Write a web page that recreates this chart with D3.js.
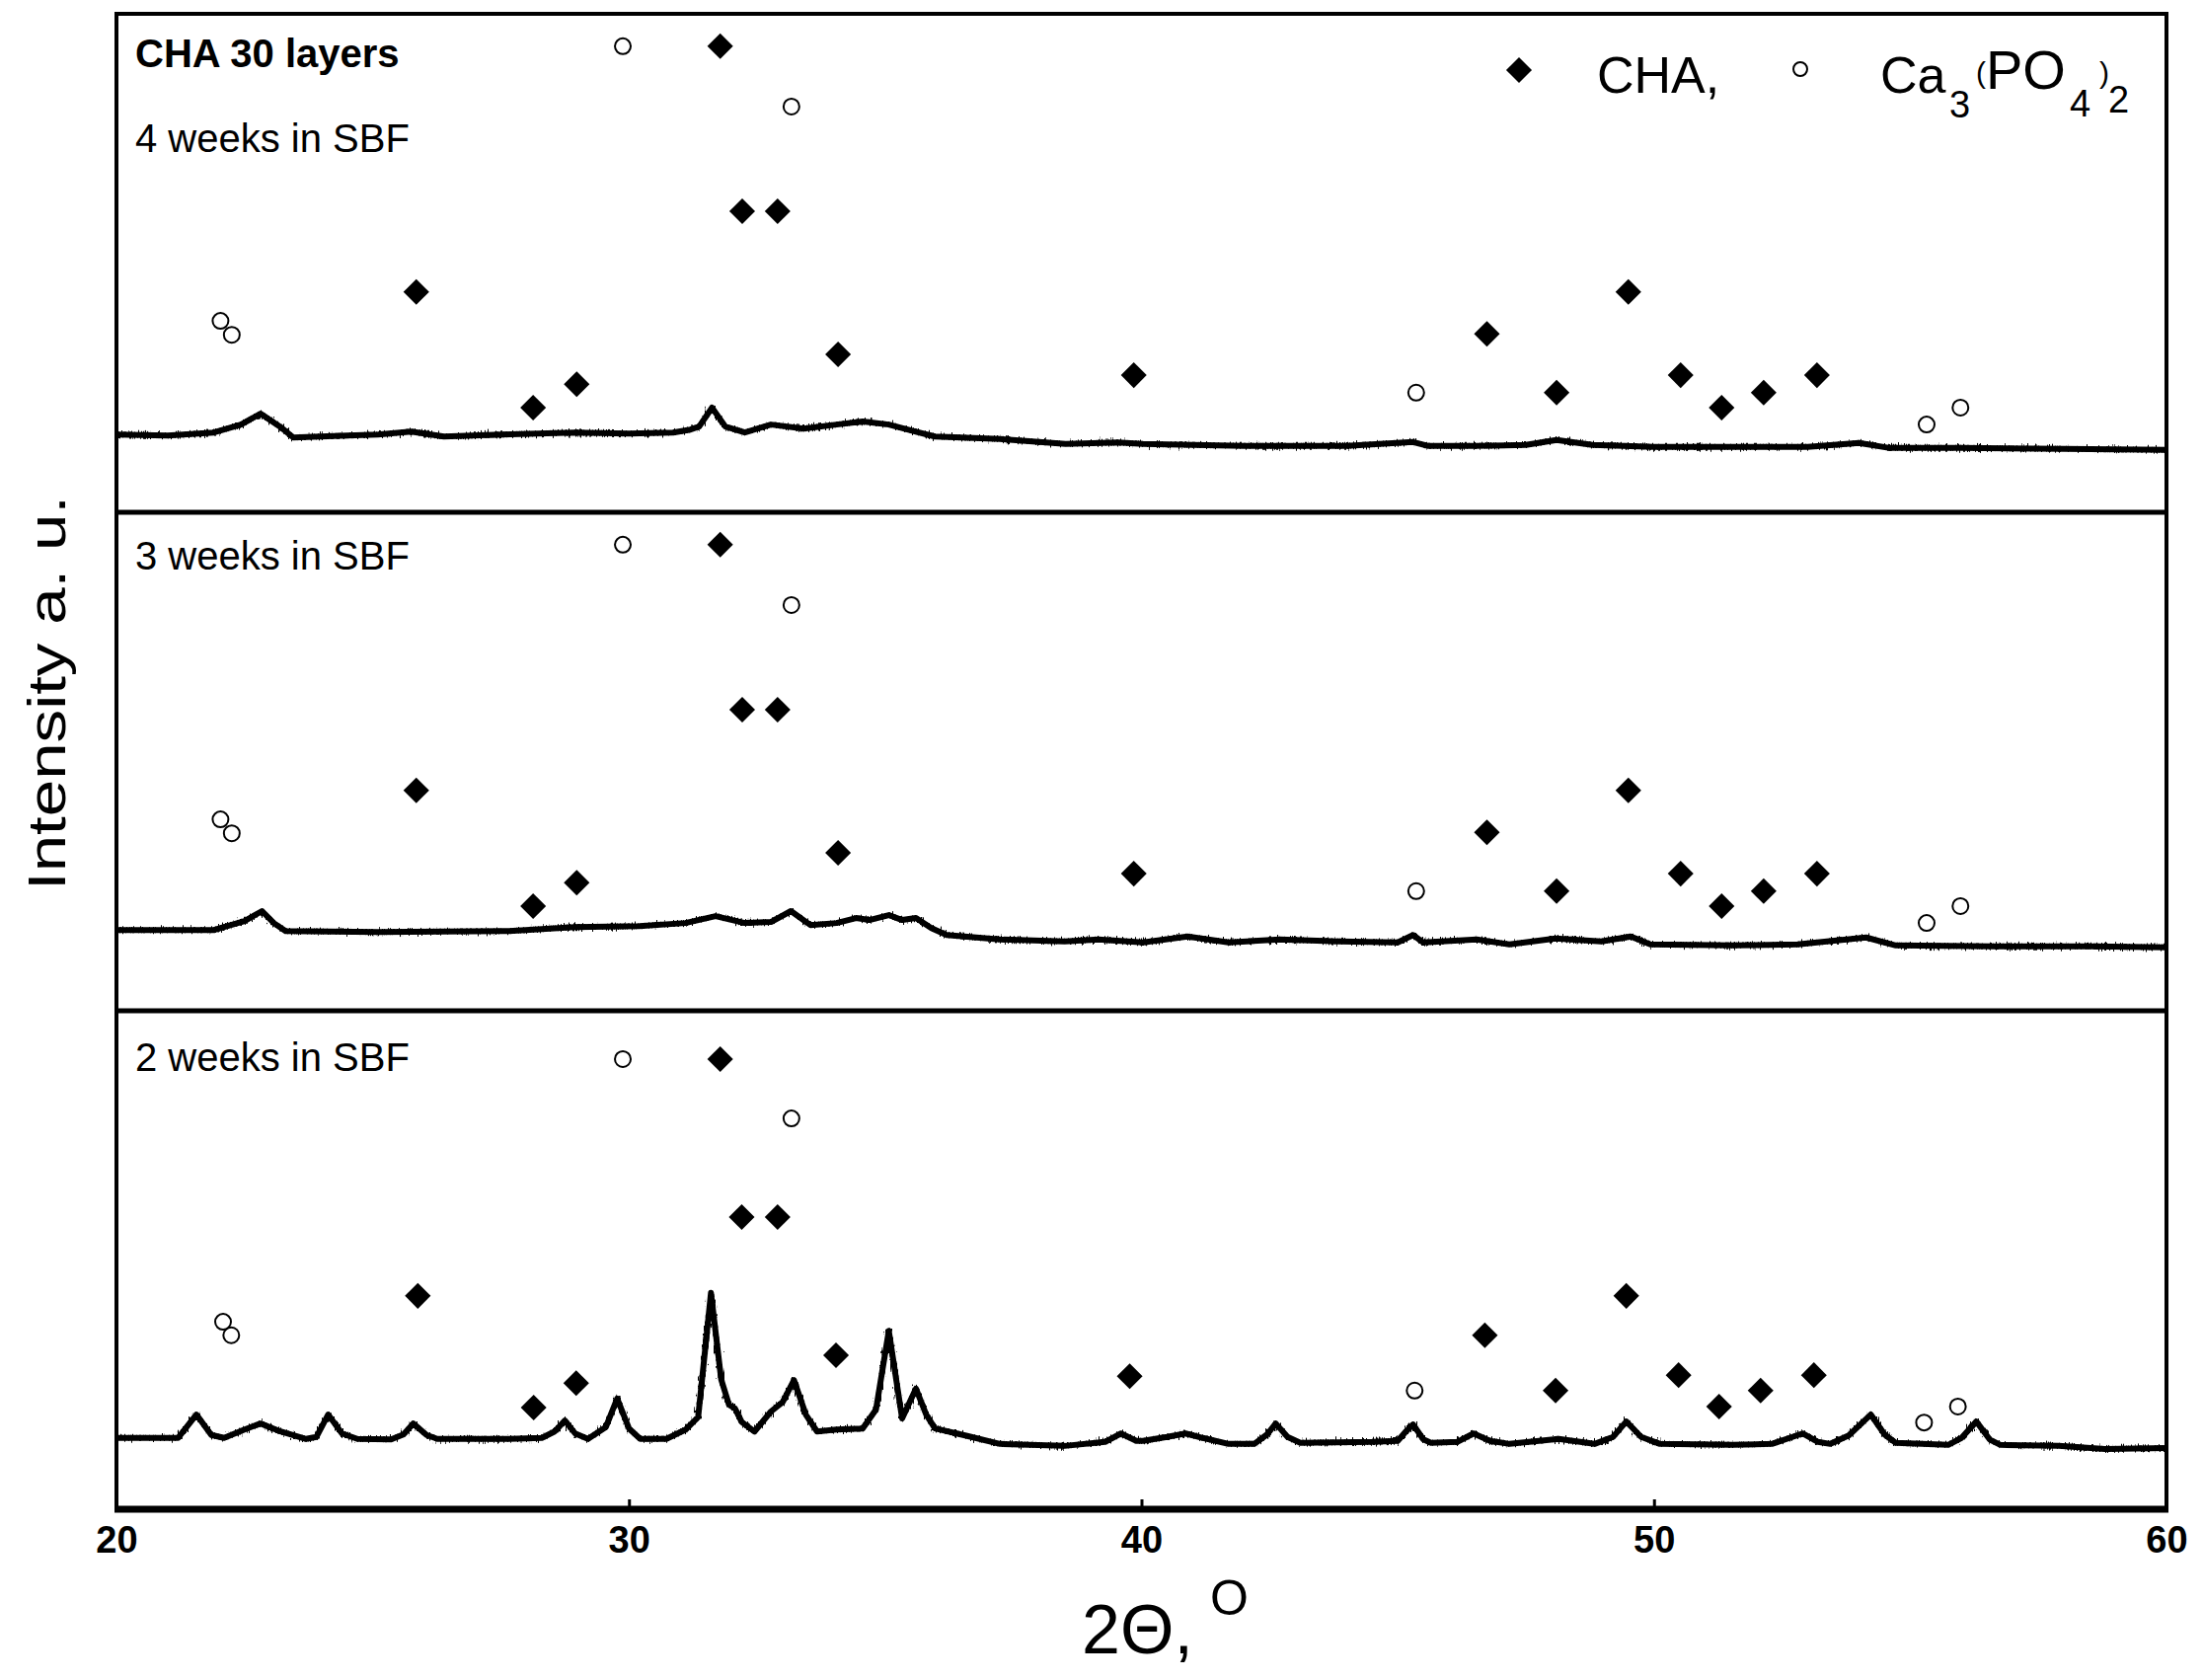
<!DOCTYPE html>
<html>
<head>
<meta charset="utf-8">
<script src="https://cdn.jsdelivr.net/npm/d3@7"></script>
<style>
  html, body { margin: 0; padding: 0; background: #fff; }
  svg { display: block; }
  text { font-family: "Liberation Sans", Arial, sans-serif; fill: #000; }
</style>
</head>
<body>
<svg id="chart" width="2232" height="1702"></svg>
<script>
// ---------- DATA (2θ in degrees, intensity in a.u.) ----------
const xTicks = [20, 30, 40, 50, 60];
const panelLabels = ["4 weeks in SBF", "3 weeks in SBF", "2 weeks in SBF"];

const trace4w = [[20.0,15.6],[21.0,15.4],[21.9,16.0],[22.43,17.6],[22.81,19.8],[23.19,17.2],[23.45,15.0],[24.5,15.4],[25.1,15.6],[25.75,16.2],[26.39,15.2],[27.5,15.6],[28.94,16.0],[30.0,15.8],[30.86,16.0],[31.2,16.6],[31.37,17.2],[31.62,21.0],[31.88,17.2],[32.26,16.0],[32.77,17.6],[33.41,16.8],[34.05,17.6],[34.56,18.2],[35.07,17.6],[35.58,16.2],[35.97,15.2],[37.24,14.7],[38.52,13.7],[39.54,14.0],[40.03,13.7],[42.0,13.3],[44.0,13.3],[45.3,14.1],[45.6,13.3],[46.5,13.3],[47.5,13.5],[48.1,14.5],[48.8,13.5],[50.0,13.1],[51.5,13.1],[53.0,13.1],[54.0,13.9],[54.6,12.9],[56.0,12.9],[58.0,12.7],[60.0,12.5]];

const trace3w = [[20.0,16.2],[21.9,16.2],[22.5,18.0],[22.84,20.0],[23.07,17.6],[23.3,16.0],[25.1,15.8],[27.66,16.0],[28.94,16.8],[30.2,17.0],[31.1,17.6],[31.69,19.0],[32.26,17.6],[32.77,17.8],[33.16,20.0],[33.54,17.2],[34.05,17.6],[34.43,18.6],[34.69,18.2],[35.07,19.2],[35.33,18.2],[35.6,18.6],[35.9,16.6],[36.2,15.2],[37.24,14.3],[38.5,13.9],[39.16,14.3],[40.03,13.7],[40.9,14.9],[41.7,13.7],[42.7,14.3],[43.86,13.9],[45.0,13.7],[45.3,15.2],[45.5,13.7],[46.54,14.3],[47.18,13.3],[48.08,14.5],[48.97,13.9],[49.55,14.9],[49.93,13.3],[51.53,13.1],[52.8,13.3],[54.14,14.7],[54.72,13.1],[56.63,12.9],[58.55,12.9],[60.0,12.7]];

const trace2w = [[20.0,14.3],[21.2,14.3],[21.56,19.0],[21.85,14.9],[22.1,14.3],[22.5,16.0],[22.81,17.2],[23.2,15.6],[23.7,14.1],[23.9,14.5],[24.13,19.0],[24.4,15.2],[24.7,14.1],[25.36,14.0],[25.6,15.0],[25.79,17.2],[26.05,14.9],[26.26,14.1],[27.66,14.1],[28.3,14.3],[28.55,15.6],[28.75,17.8],[28.95,15.2],[29.2,14.1],[29.55,16.5],[29.77,22.2],[30.0,16.2],[30.22,14.1],[30.73,14.1],[31.11,16.0],[31.35,18.5],[31.6,43.4],[31.8,26.0],[31.95,21.0],[32.07,20.2],[32.2,17.5],[32.45,15.6],[32.77,19.6],[33.0,21.5],[33.22,25.9],[33.45,19.0],[33.67,15.6],[34.05,16.0],[34.56,16.2],[34.82,20.0],[35.07,35.8],[35.33,18.2],[35.6,24.2],[35.8,19.0],[35.97,16.2],[36.6,14.7],[37.24,13.1],[38.5,12.7],[39.29,13.5],[39.6,15.2],[39.9,13.7],[40.03,13.7],[40.5,14.5],[40.86,15.2],[41.2,14.3],[41.7,13.1],[42.2,13.1],[42.45,15.0],[42.62,17.2],[42.85,14.5],[43.1,13.3],[44.5,13.5],[45.0,13.7],[45.15,15.5],[45.3,17.0],[45.5,14.0],[45.65,13.3],[46.16,13.5],[46.48,15.2],[46.8,13.7],[47.18,13.1],[48.14,14.1],[48.84,13.1],[49.2,14.5],[49.46,17.6],[49.75,14.5],[50.12,13.1],[51.53,12.9],[52.3,13.1],[52.9,15.2],[53.2,13.5],[53.44,13.1],[53.8,14.8],[54.23,19.0],[54.5,15.0],[54.72,13.3],[55.74,12.9],[56.0,14.3],[56.29,17.6],[56.55,14.0],[56.76,12.9],[57.9,12.7],[58.8,12.1],[60.0,12.3]];

// CHA reflection markers [2θ, marker level]
const cha4w = [[25.85,44.2],[28.13,21.0],[28.98,25.7],[31.78,93.5],[32.21,60.4],[32.9,60.4],[34.08,31.7],[39.85,27.5],[46.74,35.8],[48.1,24.0],[49.5,44.2],[50.52,27.5],[51.32,21.0],[52.14,24.0],[53.18,27.5]];
const cha3w = [[25.85,44.2],[28.13,21.0],[28.98,25.7],[31.78,93.5],[32.21,60.4],[32.9,60.4],[34.08,31.7],[39.85,27.5],[46.74,35.8],[48.1,24.0],[49.5,44.2],[50.52,27.5],[51.32,21.0],[52.14,24.0],[53.18,27.5]];
const cha2w = [[25.88,42.8],[28.14,20.4],[28.97,25.3],[31.78,90.3],[32.2,58.6],[32.9,58.6],[34.04,30.9],[39.77,26.7],[46.7,34.9],[48.08,23.8],[49.46,42.8],[50.48,26.9],[51.27,20.6],[52.08,23.8],[53.12,26.9]];
// Ca3(PO4)2 reflection markers [2θ, marker level]
const tcp4w = [[22.25,35.6],[22.03,38.4],[29.88,93.5],[33.17,81.4],[45.36,24.0],[55.32,17.6],[55.98,21.0]];
const tcp3w = [[22.25,35.6],[22.03,38.4],[29.88,93.5],[33.17,81.4],[45.36,24.0],[55.32,17.6],[55.98,21.0]];
const tcp2w = [[22.24,34.9],[22.08,37.6],[29.88,90.3],[33.17,78.4],[45.33,23.8],[55.27,17.4],[55.93,20.6]];

// ---------- LAYOUT ----------
const svg = d3.select("#chart");
const L = 118, R = 2195, T = 14, B = 1529;
const nP = 3, pH = (B - T) / nP;
const x = d3.scaleLinear().domain([20, 60]).range([L, R]);
const FONT = '"Liberation Sans", Arial, sans-serif';

const panels = [
  { trace: trace4w, cha: cha4w, tcp: tcp4w, label: panelLabels[0] },
  { trace: trace3w, cha: cha3w, tcp: tcp3w, label: panelLabels[1] },
  { trace: trace2w, cha: cha2w, tcp: tcp2w, label: panelLabels[2] }
];

// noise-like roughness filter for the diffractogram trace (visual style only)
const defs = svg.append("defs");
const f = defs.append("filter").attr("id", "rough")
  .attr("filterUnits", "userSpaceOnUse")
  .attr("x", 0).attr("y", 0).attr("width", 2232).attr("height", 1702);
f.append("feTurbulence").attr("type", "fractalNoise")
  .attr("baseFrequency", "0.9 0.15").attr("numOctaves", 1).attr("seed", 11).attr("result", "n");
f.append("feDisplacementMap").attr("in", "SourceGraphic").attr("in2", "n")
  .attr("scale", 12).attr("xChannelSelector", "G").attr("yChannelSelector", "R");

defs.append("clipPath").attr("id", "plotclip")
  .append("rect").attr("x", L).attr("y", T).attr("width", R - L).attr("height", B - T);

const diamond = d3.symbol().type(d3.symbolSquare).size(340);

panels.forEach((p, i) => {
  const top = T + i * pH, bot = top + pH;
  const y = d3.scaleLinear().domain([0, 100]).range([bot, top]);
  const g = svg.append("g").attr("clip-path", "url(#plotclip)");
  const line = d3.line().x(d => x(d[0])).y(d => y(d[1])).curve(d3.curveLinear);

  g.append("path").datum(p.trace).attr("d", line)
    .attr("fill", "none").attr("stroke", "#000").attr("stroke-width", 6)
    .attr("stroke-linejoin", "round");
  g.append("path").datum(p.trace).attr("d", line)
    .attr("fill", "none").attr("stroke", "#000").attr("stroke-width", 4)
    .attr("stroke-linejoin", "round").attr("filter", "url(#rough)");

  g.selectAll(".tcp").data(p.tcp).join("circle")
    .attr("cx", d => x(d[0])).attr("cy", d => y(d[1])).attr("r", 8)
    .attr("fill", "#fff").attr("stroke", "#000").attr("stroke-width", 2);

  g.selectAll(".cha").data(p.cha).join("path")
    .attr("d", diamond)
    .attr("transform", d => `translate(${x(d[0])},${y(d[1])}) rotate(45)`)
    .attr("fill", "#000");

  const labY = [154, 577, 1085][i];
  svg.append("text").attr("x", 137).attr("y", labY)
    .attr("font-size", 40).text(p.label);
});

svg.append("text").attr("x", 137).attr("y", 68)
  .attr("font-size", 40).attr("font-weight", "bold").text("CHA 30 layers");

// ---------- FRAME ----------
svg.append("rect").attr("x", L).attr("y", T).attr("width", R - L).attr("height", B - T)
  .attr("fill", "none").attr("stroke", "#000").attr("stroke-width", 4);
[1, 2].forEach(k => {
  svg.append("line").attr("x1", L).attr("x2", R)
    .attr("y1", T + k * pH).attr("y2", T + k * pH)
    .attr("stroke", "#000").attr("stroke-width", 5);
});

// ---------- X AXIS ----------
const xAxis = d3.axisBottom(x).tickValues(xTicks).tickFormat(d3.format("d"))
  .tickSizeInner(-10).tickSizeOuter(0).tickPadding(17);
const ax = svg.append("g").attr("transform", `translate(0,${B})`).call(xAxis);
ax.select(".domain").remove();
ax.selectAll(".tick line").attr("stroke", "#000").attr("stroke-width", 3);
ax.selectAll(".tick text").attr("font-size", 38).attr("font-weight", "bold")
  .attr("font-family", FONT).attr("fill", "#000");
svg.append("line").attr("x1", L - 2).attr("x2", R + 2).attr("y1", B).attr("y2", B)
  .attr("stroke", "#000").attr("stroke-width", 7);

// axis titles
svg.append("text").attr("x", 1096).attr("y", 1675).attr("font-size", 70).text("2Θ,");
svg.append("text").attr("x", 1226).attr("y", 1636).attr("font-size", 50).text("O");

svg.append("text")
  .attr("transform", "translate(66,702) rotate(-90)")
  .attr("text-anchor", "middle").attr("font-size", 54)
  .attr("textLength", 400).attr("lengthAdjust", "spacingAndGlyphs")
  .text("Intensity a. u.");

// ---------- LEGEND ----------
svg.append("path").attr("d", diamond)
  .attr("transform", "translate(1539,71) rotate(45)").attr("fill", "#000");
svg.append("text").attr("x", 1618).attr("y", 94).attr("font-size", 52).text("CHA,");
svg.append("circle").attr("cx", 1824).attr("cy", 70).attr("r", 7)
  .attr("fill", "#fff").attr("stroke", "#000").attr("stroke-width", 2);
const formula = [
  { t: "Ca", x: 1905, y: 94, s: 52 },
  { t: "3", x: 1975, y: 119, s: 38 },
  { t: "(", x: 2002, y: 84, s: 30 },
  { t: "PO", x: 2012, y: 90, s: 56 },
  { t: "4", x: 2097, y: 118, s: 38 },
  { t: ")", x: 2127, y: 84, s: 30 },
  { t: "2", x: 2136, y: 114, s: 38 }
];
svg.append("g").selectAll("text").data(formula).join("text")
  .attr("x", d => d.x).attr("y", d => d.y).attr("font-size", d => d.s).text(d => d.t);
</script>
</body>
</html>
